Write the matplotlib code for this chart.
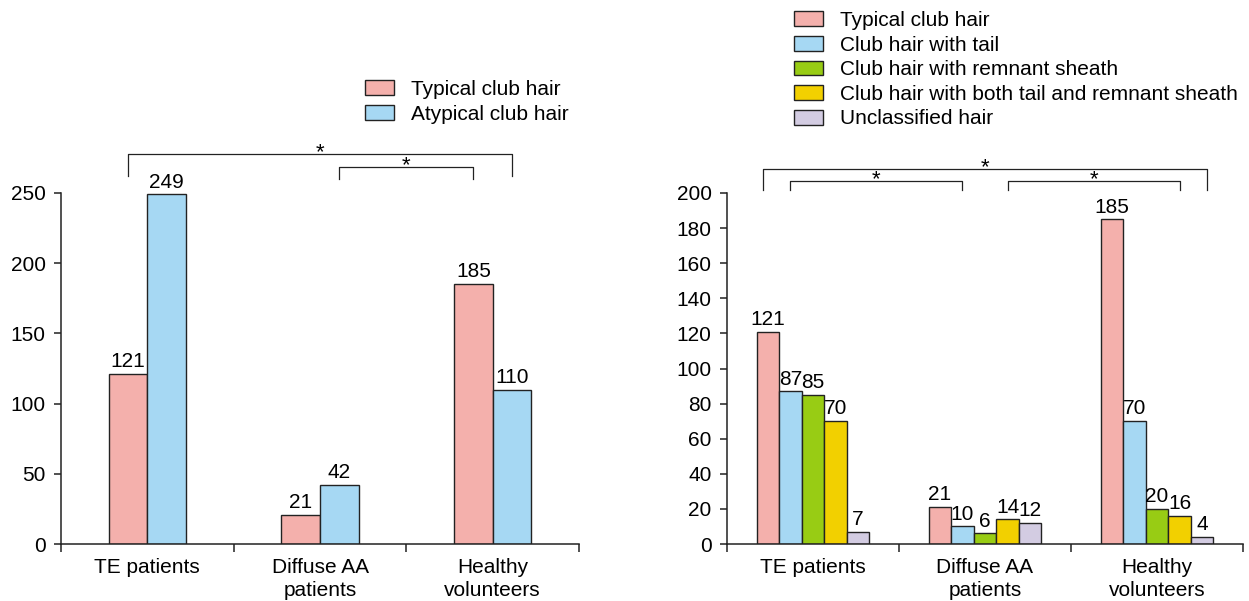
import matplotlib.pyplot as plt
import numpy as np

plt.rcParams['font.family'] = ['Liberation Sans', 'DejaVu Sans']
plt.rcParams['font.size'] = 15

# Datos
groups = ['TE patients', 'Diffuse AA\npatients', 'Healthy\nvolunteers']

left_labels = ['Typical club hair', 'Atypical club hair']
left_values = [[121, 21, 185],
               [249, 42, 110]]

right_labels = ['Typical club hair', 'Club hair with tail', 'Club hair with remnant sheath',
                'Club hair with both tail and remnant sheath', 'Unclassified hair']
right_values = [[121, 21, 185],
                [87, 10, 70],
                [85, 6, 20],
                [70, 14, 16],
                [7, 12, 4]]

colors = ['#F4B0AC', '#A6D8F3', '#98CC14', '#F2D000', '#D3CCE2']

W, H = 1249, 601
fig = plt.figure(figsize=(W / 100, H / 100), dpi=100)

ax1 = fig.add_axes([61 / W, 57 / H, 518 / W, 351 / H])
ax2 = fig.add_axes([727 / W, 57 / H, 516 / W, 351 / H])

centers = np.arange(len(groups)) + 0.5


def style_axis(ax, ymax, step):
    ax.set_xlim(0, 3)
    ax.set_ylim(0, ymax)
    for s in ['top', 'right']:
        ax.spines[s].set_visible(False)
    for s in ['left', 'bottom']:
        ax.spines[s].set_linewidth(1.1)
        ax.spines[s].set_color('#222222')
    ax.set_yticks(np.arange(0, ymax + 1, step))
    ax.tick_params(axis='y', length=5, width=1.1, pad=6, color='#222222')
    ax.set_xticks([0, 1, 2, 3])
    ax.set_xticklabels([])
    ax.set_xticks(centers, minor=True)
    ax.set_xticklabels(groups, minor=True, linespacing=1.25)
    ax.tick_params(axis='x', which='major', length=6, width=1.1, color='#222222')
    ax.tick_params(axis='x', which='minor', length=0, pad=10)


def bracket(ax, x0, x1, top, bottom0, bottom1):
    ax.plot([x0, x0, x1, x1], [bottom0, top, top, bottom1], color='#222222',
            lw=0.9, clip_on=False)
    ax.annotate('*', xy=((x0 + x1) / 2, top), xytext=(0, -3),
                textcoords='offset points', ha='center', va='baseline',
                fontsize=16, annotation_clip=False)


def add_legend(ax, x, y):
    ax.legend(loc='upper left', bbox_to_anchor=(x / W, 1 - y / H),
              bbox_transform=fig.transFigure, frameon=False, borderpad=0,
              borderaxespad=0, handlelength=1.4, handleheight=0.7,
              handletextpad=0.82, labelspacing=0.27, fontsize=15)


# Grafico izquierdo
bw1 = 0.223
for i, (lab, vals) in enumerate(zip(left_labels, left_values)):
    xs = centers + (i - 0.5) * bw1
    bars = ax1.bar(xs, vals, width=bw1, color=colors[i], edgecolor='#222222',
                   linewidth=1.0, label=lab)
    ax1.bar_label(bars, padding=2, fontsize=15)
style_axis(ax1, 250, 50)

bracket(ax1, 0.5 - bw1 / 2, 2.5 + bw1 / 2, 277.8, 262, 262)
bracket(ax1, 1.5 + bw1 / 2, 2.5 - bw1 / 2, 268.5, 260, 260)
add_legend(ax1, 365, 80)

# Grafico derecho
bw2 = 0.131
for i, (lab, vals) in enumerate(zip(right_labels, right_values)):
    xs = centers + (i - 2) * bw2
    bars = ax2.bar(xs, vals, width=bw2, color=colors[i], edgecolor='#222222',
                   linewidth=1.0, label=lab)
    ax2.bar_label(bars, padding=2, fontsize=15)
style_axis(ax2, 200, 20)

bracket(ax2, 0.21, 2.79, 213.7, 201.7, 201.7)
bracket(ax2, 0.5 - bw2, 1.5 - bw2, 206.8, 201.7, 201.7)
bracket(ax2, 1.5 + bw2, 2.5 + bw2, 206.8, 201.7, 201.7)
add_legend(ax2, 794, 11)

plt.savefig('out.png', dpi=100)
